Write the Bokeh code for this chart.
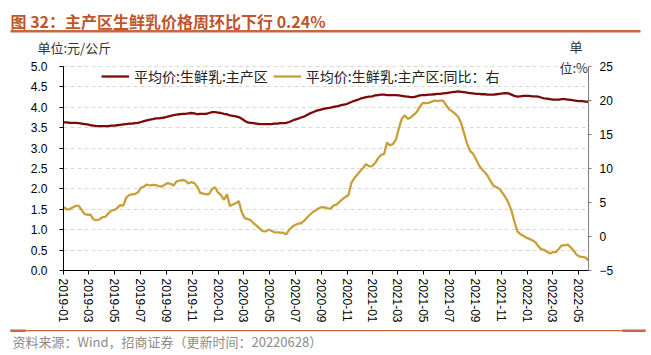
import pandas as pd
from bokeh.plotting import figure
from bokeh.layouts import column
from bokeh.models import (Range1d, LinearAxis, FixedTicker, DatetimeTickFormatter,
                          Label, Legend, LegendItem, BoxAnnotation, NumeralTickFormatter)
from bokeh.embed import file_html
from bokeh.resources import INLINE

# ---------------- data (weekly) ----------------
start_date = "2019-01-02"
price = [
    3.63, 3.63, 3.62, 3.62, 3.62, 3.61, 3.60, 3.59, 3.58, 3.56,
    3.55, 3.54, 3.54, 3.54, 3.54, 3.54, 3.55, 3.55, 3.56, 3.57,
    3.58, 3.59, 3.60, 3.60, 3.61, 3.62, 3.64, 3.66, 3.68, 3.70,
    3.71, 3.73, 3.73, 3.74, 3.75, 3.77, 3.79, 3.81, 3.82, 3.83,
    3.84, 3.84, 3.85, 3.86, 3.85, 3.83, 3.84, 3.84, 3.84, 3.86,
    3.88, 3.88, 3.87, 3.86, 3.84, 3.83, 3.80, 3.79, 3.78, 3.76,
    3.72, 3.67, 3.63, 3.62, 3.61, 3.60, 3.59, 3.59, 3.59, 3.59,
    3.59, 3.60, 3.60, 3.61, 3.61, 3.62, 3.64, 3.67, 3.70, 3.72,
    3.75, 3.77, 3.81, 3.85, 3.88, 3.91, 3.93, 3.95, 3.97, 3.98,
    3.99, 4.01, 4.02, 4.04, 4.06, 4.07, 4.10, 4.13, 4.16, 4.18,
    4.21, 4.23, 4.25, 4.26, 4.27, 4.29, 4.30, 4.31, 4.31, 4.30,
    4.30, 4.30, 4.30, 4.29, 4.28, 4.27, 4.26, 4.25, 4.25, 4.27,
    4.29, 4.30, 4.30, 4.31, 4.31, 4.32, 4.33, 4.33, 4.34, 4.35,
    4.36, 4.37, 4.38, 4.39, 4.38, 4.37, 4.36, 4.35, 4.34, 4.33,
    4.33, 4.32, 4.32, 4.31, 4.31, 4.31, 4.32, 4.33, 4.34, 4.35,
    4.34, 4.31, 4.28, 4.26, 4.27, 4.28, 4.28, 4.28, 4.27, 4.27,
    4.26, 4.24, 4.22, 4.21, 4.20, 4.19, 4.19, 4.19, 4.20, 4.20,
    4.19, 4.18, 4.17, 4.16, 4.15, 4.15, 4.14, 4.14,
]
yoy = [
    4.3, 4.0, 4.0, 4.3, 4.5, 4.5, 3.9, 3.3, 3.2, 3.2,
    2.5, 2.4, 2.5, 2.85, 2.9, 3.4, 3.8, 3.9, 4.2, 4.6,
    4.5, 5.7, 6.1, 6.2, 6.25, 6.5, 7.2, 7.35, 7.65, 7.5,
    7.6, 7.55, 7.4, 7.35, 7.6, 7.85, 7.75, 7.5, 8.1, 8.2,
    8.3, 8.2, 7.8, 8.0, 7.85, 7.3, 6.4, 6.3, 6.2, 6.25,
    7.0, 7.25, 6.45, 6.1, 5.4, 6.2, 4.5, 4.7, 4.9, 5.2,
    3.57, 2.7, 2.55, 2.4, 1.95, 1.6, 1.2, 0.8, 0.75, 1.0,
    0.85, 0.62, 0.6, 0.58, 0.55, 0.3, 1.0, 1.4, 1.7, 1.88,
    1.95, 2.3, 2.75, 3.2, 3.6, 3.85, 4.15, 4.31, 4.28, 4.15,
    4.1, 4.58, 4.7, 5.1, 5.5, 5.8, 6.1, 7.9, 8.6, 9.1,
    9.65, 10.1, 10.65, 10.3, 10.35, 10.8, 11.5, 12.0, 12.1, 13.8,
    13.4, 13.6, 14.2, 15.9, 17.3, 17.8, 17.3, 17.5, 17.9, 18.3,
    19.0, 19.6, 19.6, 19.65, 19.8, 20.0, 19.9, 20.0, 19.95, 19.3,
    18.7, 18.4, 18.05, 17.6, 16.7, 15.2, 13.7, 12.6, 12.2, 11.4,
    10.5, 9.9, 9.45, 8.9, 8.1, 7.45, 7.25, 7.0, 6.4, 5.75,
    4.95, 3.8, 2.2, 0.75, 0.35, 0.12, -0.17, -0.35, -0.55, -0.8,
    -1.4, -1.85, -1.95, -2.25, -2.5, -2.3, -2.3, -1.8, -1.3, -1.3,
    -1.2, -1.6, -2.1, -2.7, -2.95, -3.0, -3.1, -3.5,
]
series_names = ["平均价:生鲜乳:主产区", "平均价:生鲜乳:主产区:同比：右"]
left_ticks = [0.0, 0.5, 1.0, 1.5, 2.0, 2.5, 3.0, 3.5, 4.0, 4.5, 5.0]
right_ticks = [-5, 0, 5, 10, 15, 20, 25]
tick_months = pd.date_range("2019-01-01", "2022-05-01", freq="2MS")

title_text = "图 32：主产区生鲜乳价格周环比下行 0.24%"
left_unit = "单位:元/公斤"
right_unit_1 = "单"
right_unit_2 = "位:%"
source_text = "资料来源：Wind，招商证券（更新时间：20220628）"

dates = pd.date_range(start_date, periods=len(price), freq="7D")

RED = "#7B0A0A"
GOLD = "#C8A03A"
ACCENT = "#C4683F"
CJK = "Noto Sans CJK SC"
LAT = "Liberation Sans"
W = 650

# layout geometry (pixels)
TOP_H = 56          # header strip height
MAIN_H = 270        # main chart figure height
BOT_H = 28          # footer strip height
FRAME_L, FRAME_R = 63, 62
FRAME_BOTTOM = 56   # space below plot frame for the date axis
AXIS_PX = 204       # pixel length of the 0..5 axis
FRAME_PX = MAIN_H - FRAME_BOTTOM
ext = FRAME_PX / AXIS_PX


def lab(fig, text, x, y, size, color, font=CJK, style="normal", **kw):
    fig.add_layout(Label(x=x, y=y, x_units="screen", y_units="screen", text=text,
                         text_font=font, text_font_size=size, text_color=color,
                         text_font_style=style, text_baseline="middle", **kw))


def rule(fig, left, right, bottom, top):
    fig.add_layout(BoxAnnotation(left=left, right=right, top=top, bottom=bottom,
                                 left_units="screen", right_units="screen",
                                 top_units="screen", bottom_units="screen",
                                 fill_color=ACCENT, fill_alpha=1, line_color=None,
                                 level="overlay"))


def strip(height):
    f = figure(width=W, height=height, x_range=Range1d(0, 1), y_range=Range1d(0, 1),
               output_backend="svg", toolbar_location=None,
               x_axis_location=None, y_axis_location=None,
               min_border_left=0, min_border_right=0, min_border_top=0, min_border_bottom=0,
               frame_align=False)
    f.outline_line_color = None
    f.grid.visible = False
    f.background_fill_color = "white"
    f.border_fill_color = "white"
    return f


# ---------------- header ----------------
top = strip(TOP_H)
lab(top, title_text, 10, 36, "16px", "#BE552C", style="bold")
rule(top, 10, 640, 24, 26.5)
lab(top, left_unit, 37, 9, "13px", "#333333")
lab(top, right_unit_1, 569, 10, "13px", "#333333")

# ---------------- main chart ----------------
p = figure(width=W, height=MAIN_H, x_axis_type="datetime",
           x_range=Range1d(pd.Timestamp("2019-01-01"), dates[-1]),
           y_range=Range1d(left_ticks[0], left_ticks[0] + (left_ticks[-1] - left_ticks[0]) * ext),
           output_backend="svg", toolbar_location=None,
           min_border_left=FRAME_L, min_border_right=FRAME_R,
           min_border_top=0, min_border_bottom=FRAME_BOTTOM, frame_align=False)
p.outline_line_color = None
p.background_fill_color = "white"
p.border_fill_color = "white"
p.extra_y_ranges = {"right": Range1d(right_ticks[0],
                                     right_ticks[0] + (right_ticks[-1] - right_ticks[0]) * ext)}

r1 = p.line(dates, price, line_color=RED, line_width=2.3)
r2 = p.line(dates, yoy, line_color=GOLD, line_width=2.3, y_range_name="right")

p.xgrid.visible = False
p.ygrid.ticker = FixedTicker(ticks=left_ticks)
p.ygrid.grid_line_color = "#D9D9D9"
p.ygrid.grid_line_dash = "4 3"

ya = p.yaxis[0]
ya.ticker = FixedTicker(ticks=left_ticks)
ya.bounds = (left_ticks[0], left_ticks[-1])
ya.formatter = NumeralTickFormatter(format="0.0")
ya.axis_line_color = "#000000"
ya.major_tick_line_color = "#000000"
ya.major_tick_out = 4
ya.major_tick_in = 0
ya.minor_tick_line_color = None
ya.major_label_standoff = 12
ya.major_label_text_font = LAT
ya.major_label_text_font_size = "12px"
ya.major_label_text_color = "#000000"

ra = LinearAxis(y_range_name="right", ticker=FixedTicker(ticks=right_ticks),
                bounds=(right_ticks[0], right_ticks[-1]))
ra.axis_line_color = "#7F7F7F"
ra.major_tick_line_color = "#7F7F7F"
ra.major_tick_out = 3
ra.major_tick_in = 0
ra.minor_tick_line_color = None
ra.major_label_standoff = 8
ra.major_label_text_font = LAT
ra.major_label_text_font_size = "12px"
ra.major_label_text_color = "#000000"
p.add_layout(ra, "right")

xa = p.xaxis[0]
xa.ticker = FixedTicker(ticks=[t.value // 10**6 for t in tick_months])
fmt = "%Y-%m"
xa.formatter = DatetimeTickFormatter(milliseconds=fmt, seconds=fmt, minsec=fmt, minutes=fmt,
                                     hourmin=fmt, hours=fmt, days=fmt, months=fmt, years=fmt)
xa.major_label_orientation = "vertical"
xa.axis_line_color = "#000000"
xa.major_tick_line_color = "#000000"
xa.major_tick_out = 4
xa.major_tick_in = 0
xa.minor_tick_line_color = None
xa.major_label_standoff = 4
xa.major_label_text_font = LAT
xa.major_label_text_font_size = "12px"
xa.major_label_text_color = "#000000"

legend = Legend(items=[LegendItem(label=series_names[0], renderers=[r1]),
                       LegendItem(label=series_names[1], renderers=[r2])],
                orientation="horizontal", location=(38, 184),
                glyph_width=28, glyph_height=14, label_height=14,
                label_standoff=5, spacing=5, padding=0, margin=0,
                border_line_color=None, background_fill_alpha=0,
                label_text_font=CJK, label_text_font_size="14px",
                label_text_color="#222222")
p.add_layout(legend, "center")

lab(p, right_unit_2, 496, 203, "13px", "#333333")

# ---------------- footer ----------------
bot = strip(BOT_H)
rule(bot, 10, 645, 23.2, 24.4)
rule(bot, 10, 25, 22.5, 25)
rule(bot, 622, 645, 22.5, 25)
lab(bot, source_text, 12, 13, "13px", "#8C8C8C")

layout = column(top, p, bot, spacing=0)
open("out.html", "w").write(file_html(layout, INLINE))
